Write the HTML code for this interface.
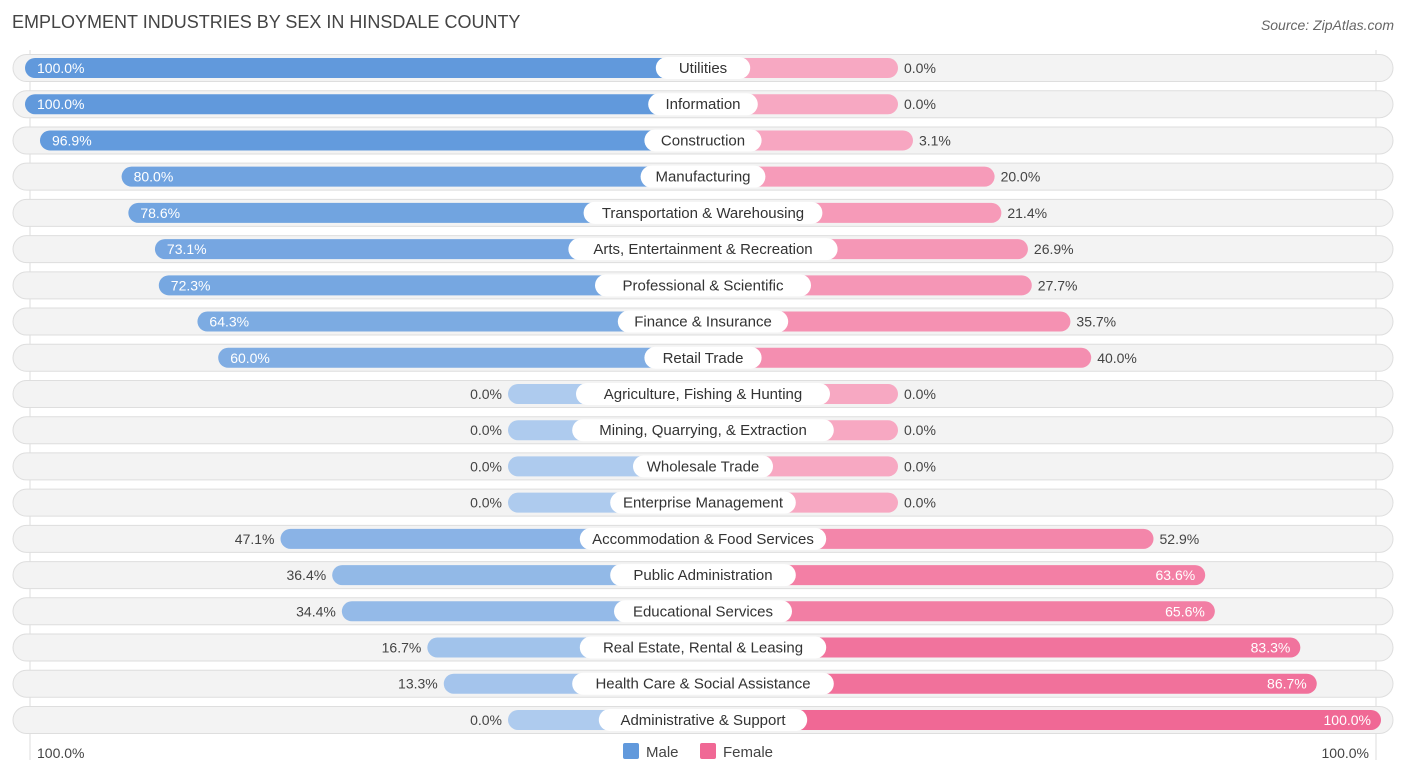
<!DOCTYPE html>
<html><head><meta charset="utf-8"><style>
body{margin:0;background:#fff;font-family:"Liberation Sans",sans-serif;}
svg text{font-family:"Liberation Sans",sans-serif;}
</style></head><body>
<svg id="c" width="1406" height="776">
<text x="12" y="28" font-size="18" fill="#444">EMPLOYMENT INDUSTRIES BY SEX IN HINSDALE COUNTY</text>
<text x="1394" y="30" font-size="14" fill="#666" font-style="italic" text-anchor="end">Source: ZipAtlas.com</text>
<line x1="30" y1="50" x2="30" y2="760" stroke="#ddd"/>
<line x1="1376" y1="50" x2="1376" y2="760" stroke="#ddd"/>
<g id="rows"></g>
<text x="37" y="758" font-size="14" fill="#444">100.0%</text>
<text x="1369" y="758" font-size="14" fill="#444" text-anchor="end">100.0%</text>
<rect x="623" y="743" width="16" height="16" rx="2" fill="#6199dc"/>
<text x="646" y="757" font-size="15" fill="#444">Male</text>
<rect x="700" y="743" width="16" height="16" rx="2" fill="#f06895"/>
<text x="723" y="757" font-size="15" fill="#444">Female</text>
</svg>
<script>
const categories=["Utilities","Information","Construction","Manufacturing","Transportation & Warehousing","Arts, Entertainment & Recreation","Professional & Scientific","Finance & Insurance","Retail Trade","Agriculture, Fishing & Hunting","Mining, Quarrying, & Extraction","Wholesale Trade","Enterprise Management","Accommodation & Food Services","Public Administration","Educational Services","Real Estate, Rental & Leasing","Health Care & Social Assistance","Administrative & Support"];
const maleValues=[100,100,96.9,80,78.6,73.1,72.3,64.3,60,0,0,0,0,47.1,36.4,34.4,16.7,13.3,0];
const femaleValues=[0,0,3.1,20,21.4,26.9,27.7,35.7,40,0,0,0,0,52.9,63.6,65.6,83.3,86.7,100];
const NS="http://www.w3.org/2000/svg";
const g=document.getElementById('rows');
const cx=703,stub=195,k=4.83,y0=68,dy=36.22,bh=20;
function xm(v){return cx-stub-v*k;}
function xf(v){return cx+stub+v*k;}
function mix(a,b,t){return 'rgb('+a.map((c,i)=>Math.round(c+(b[i]-c)*t)).join(',')+')';}
function el(tag,attrs){const e=document.createElementNS(NS,tag);for(const a in attrs)e.setAttribute(a,attrs[a]);return e;}
categories.forEach((cat,i)=>{
  const y=y0+i*dy, m=maleValues[i], f=femaleValues[i];
  const bg=el('rect',{x:13,y:y-13.5,width:1380,height:27,rx:13.5,fill:'#f3f3f3',stroke:'#dedede'});
  
  
  g.appendChild(bg);
  const x1=xm(m);
  const mb=el('rect',{x:x1,y:y-bh/2,width:cx-x1,height:bh,rx:10,fill:mix([174,203,238],[97,153,220],m/100)});
  
  
  g.appendChild(mb);
  const x2=xf(f);
  const fb=el('rect',{x:cx,y:y-bh/2,width:x2-cx,height:bh,rx:10,fill:mix([247,168,194],[240,104,149],f/100)});
  
  
  g.appendChild(fb);
  const lw=cat.length*7.6+26;
  const lb=el('rect',{x:cx-lw/2,y:y-11,width:lw,height:22,rx:11,fill:'#fff'});
  
  
  g.appendChild(lb);
  const lt=el('text',{x:cx,y:y+5,'font-size':15,fill:'#333','text-anchor':'middle'});
  lt.textContent=cat;
  
  
  g.appendChild(lt);
  const mIn=m>55;
  const mt=el('text',{x:mIn?x1+12:x1-6,y:y+5,'font-size':14,fill:mIn?'#fff':'#444','text-anchor':mIn?'start':'end'});
  mt.textContent=m.toFixed(1)+'%';
  
  
  g.appendChild(mt);
  const fIn=f>55;
  const ft=el('text',{x:fIn?x2-10:x2+6,y:y+5,'font-size':14,fill:fIn?'#fff':'#444','text-anchor':fIn?'end':'start'});
  ft.textContent=f.toFixed(1)+'%';
  
  
  g.appendChild(ft);
});
</script>
</body></html>
